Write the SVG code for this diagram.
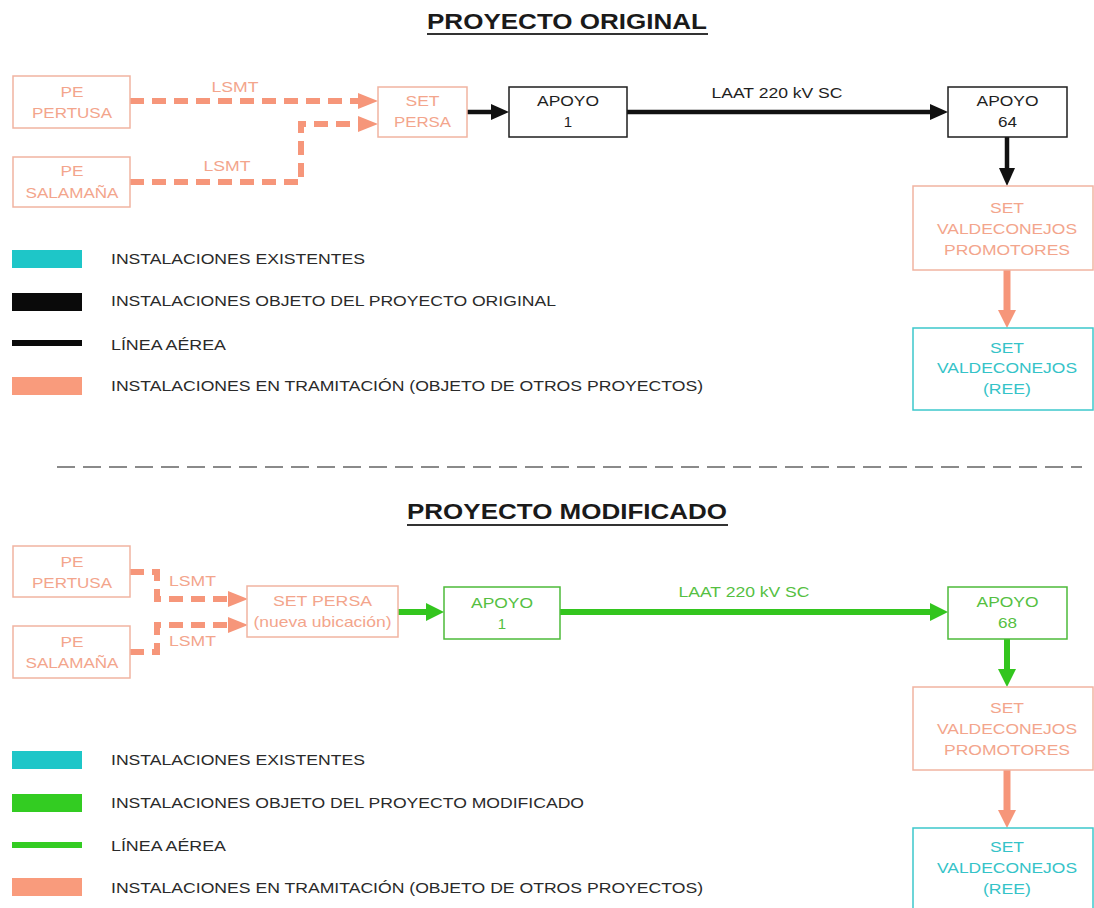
<svg xmlns="http://www.w3.org/2000/svg" width="1094" height="908" viewBox="0 0 1094 908">
<defs>
<style>
text{font-family:"Liberation Sans",Arial,sans-serif;font-size:15px;}
.c{text-anchor:middle;}
.title{font-size:22px;font-weight:bold;fill:#1a1a1a;}
.leg{fill:#2a2a2a;}
.ts{fill:#f3a58c;}
.tk{fill:#1e1e1e;}
.tc{fill:#35c3c8;}
.tg{fill:#55bf42;}
.bs{fill:#fff;stroke:#f1b4a1;stroke-width:1.5;}
.bk{fill:#fff;stroke:#1e1e1e;stroke-width:1.5;}
.bc{fill:#fff;stroke:#3cc8cc;stroke-width:1.5;}
.bg{fill:#fff;stroke:#4dbb3a;stroke-width:1.5;}
.dsh{fill:none;stroke:#f6967a;stroke-width:6;stroke-dasharray:14 8;}
.lk{fill:none;stroke:#111;stroke-width:4.5;}
.lg{fill:none;stroke:#33c51e;stroke-width:6;}
.ls{fill:none;stroke:#f6967a;stroke-width:7;}
</style>
<marker id="ahs" markerUnits="userSpaceOnUse" markerWidth="20" markerHeight="16" refX="0" refY="8" orient="auto"><path d="M0,0 L20,8 L0,16 z" fill="#f6967a"/></marker>
<marker id="ahk" markerUnits="userSpaceOnUse" markerWidth="18" markerHeight="16" refX="0" refY="8" orient="auto"><path d="M0,0 L18,8 L0,16 z" fill="#111"/></marker>
<marker id="ahg" markerUnits="userSpaceOnUse" markerWidth="18" markerHeight="18" refX="0" refY="9" orient="auto"><path d="M0,0 L18,9 L0,18 z" fill="#33c51e"/></marker>
<marker id="ahs2" markerUnits="userSpaceOnUse" markerWidth="18" markerHeight="18" refX="0" refY="9" orient="auto"><path d="M0,0 L18,9 L0,18 z" fill="#f6967a"/></marker>
</defs>
<rect width="1094" height="908" fill="#fff"/>

<!-- Titles -->
<g id="title-original">
<text class="title c" x="567" y="29" textLength="280" lengthAdjust="spacingAndGlyphs">PROYECTO ORIGINAL</text>
<line x1="427" y1="34" x2="708" y2="34" stroke="#333" stroke-width="2"/>
</g>
<g id="title-modificado">
<text class="title c" x="567" y="519" textLength="320" lengthAdjust="spacingAndGlyphs">PROYECTO MODIFICADO</text>
<line x1="407" y1="525" x2="728" y2="525" stroke="#333" stroke-width="2"/>
</g>

<g id="separator"><line x1="57" y1="467" x2="1082" y2="467" stroke="#8a8a8a" stroke-width="2" stroke-dasharray="18 8"/></g>

<!-- Connectors -->
<g id="connectors">
<path class="dsh" d="M130,101 H358" marker-end="url(#ahs)"/>
<path class="dsh" d="M130,182 H301 V124 H358" marker-end="url(#ahs)"/>
<path class="lk" d="M467,112 H491" marker-end="url(#ahk)"/>
<path class="lk" d="M627,112 H930" marker-end="url(#ahk)"/>
<path class="lk" d="M1007,137 V168" marker-end="url(#ahk)"/>
<path class="ls" d="M1007,270 V310" marker-end="url(#ahs2)"/>
<text class="ts c" x="235" y="92" textLength="47" lengthAdjust="spacingAndGlyphs">LSMT</text>
<text class="ts c" x="227" y="171" textLength="47" lengthAdjust="spacingAndGlyphs">LSMT</text>
<text class="tk c" x="777" y="98" textLength="131" lengthAdjust="spacingAndGlyphs">LAAT 220 kV SC</text>

<path class="dsh" d="M130,572 H157 V599 H228" marker-end="url(#ahs)"/>
<path class="dsh" d="M130,652 H157 V625 H228" marker-end="url(#ahs)"/>
<path class="lg" d="M398,612 H426" marker-end="url(#ahg)"/>
<path class="lg" d="M560,612 H930" marker-end="url(#ahg)"/>
<path class="lg" d="M1007,639 V669" marker-end="url(#ahg)"/>
<path class="ls" d="M1007,770 V810" marker-end="url(#ahs2)"/>
<text class="ts" x="169" y="586" textLength="47" lengthAdjust="spacingAndGlyphs">LSMT</text>
<text class="ts" x="169" y="646" textLength="47" lengthAdjust="spacingAndGlyphs">LSMT</text>
<text class="tg c" x="744" y="597" textLength="131" lengthAdjust="spacingAndGlyphs">LAAT 220 kV SC</text>
</g>

<!-- Top nodes -->
<g id="pe-pertusa-1">
<rect class="bs" x="13" y="76" width="117" height="52"/>
<text class="ts c" x="72" y="96.5" textLength="23" lengthAdjust="spacingAndGlyphs">PE</text>
<text class="ts c" x="72" y="117.5" textLength="80" lengthAdjust="spacingAndGlyphs">PERTUSA</text>
</g>
<g id="pe-salamana-1">
<rect class="bs" x="13" y="157" width="117" height="50"/>
<text class="ts c" x="72" y="176" textLength="23" lengthAdjust="spacingAndGlyphs">PE</text>
<text class="ts c" x="72" y="198" textLength="93" lengthAdjust="spacingAndGlyphs">SALAMAÑA</text>
</g>
<g id="set-persa-1">
<rect class="bs" x="378" y="87" width="89" height="50"/>
<text class="ts c" x="422.5" y="105.5" textLength="34" lengthAdjust="spacingAndGlyphs">SET</text>
<text class="ts c" x="422.5" y="126.5" textLength="57" lengthAdjust="spacingAndGlyphs">PERSA</text>
</g>
<g id="apoyo1-1">
<rect class="bk" x="509" y="87" width="118" height="50"/>
<text class="tk c" x="568" y="105.5" textLength="62" lengthAdjust="spacingAndGlyphs">APOYO</text>
<text class="tk c" x="568" y="126.5">1</text>
</g>
<g id="apoyo64">
<rect class="bk" x="948" y="87" width="119" height="50"/>
<text class="tk c" x="1007.5" y="105.5" textLength="62" lengthAdjust="spacingAndGlyphs">APOYO</text>
<text class="tk c" x="1007.5" y="126.5" textLength="19" lengthAdjust="spacingAndGlyphs">64</text>
</g>
<g id="set-valdeconejos-promotores-1">
<rect class="bs" x="913" y="186" width="180" height="84"/>
<text class="ts c" x="1007" y="212.5" textLength="34" lengthAdjust="spacingAndGlyphs">SET</text>
<text class="ts c" x="1007" y="233.5" textLength="140" lengthAdjust="spacingAndGlyphs">VALDECONEJOS</text>
<text class="ts c" x="1007" y="254.5" textLength="126" lengthAdjust="spacingAndGlyphs">PROMOTORES</text>
</g>
<g id="set-valdeconejos-ree-1">
<rect class="bc" x="913" y="328" width="180" height="82"/>
<text class="tc c" x="1007" y="352.5" textLength="34" lengthAdjust="spacingAndGlyphs">SET</text>
<text class="tc c" x="1007" y="373" textLength="140" lengthAdjust="spacingAndGlyphs">VALDECONEJOS</text>
<text class="tc c" x="1007" y="393.5" textLength="48" lengthAdjust="spacingAndGlyphs">(REE)</text>
</g>

<!-- Top legend -->
<g id="legend-original">
<rect x="12" y="250" width="70" height="18" fill="#1ec6c8"/>
<text class="leg" x="111" y="263.5" textLength="254" lengthAdjust="spacingAndGlyphs">INSTALACIONES EXISTENTES</text>
<rect x="12" y="293" width="70" height="18" fill="#0a0a0a"/>
<text class="leg" x="111" y="305.5" textLength="445" lengthAdjust="spacingAndGlyphs">INSTALACIONES OBJETO DEL PROYECTO ORIGINAL</text>
<rect x="12" y="340" width="70" height="6" fill="#0a0a0a"/>
<text class="leg" x="111" y="350" textLength="115" lengthAdjust="spacingAndGlyphs">LÍNEA AÉREA</text>
<rect x="12" y="377" width="70" height="18" fill="#f99b7c"/>
<text class="leg" x="111" y="390.5" textLength="592" lengthAdjust="spacingAndGlyphs">INSTALACIONES EN TRAMITACIÓN (OBJETO DE OTROS PROYECTOS)</text>
</g>

<!-- Bottom nodes -->
<g id="pe-pertusa-2">
<rect class="bs" x="13" y="546" width="117" height="51"/>
<text class="ts c" x="72" y="566.5" textLength="23" lengthAdjust="spacingAndGlyphs">PE</text>
<text class="ts c" x="72" y="587.5" textLength="80" lengthAdjust="spacingAndGlyphs">PERTUSA</text>
</g>
<g id="pe-salamana-2">
<rect class="bs" x="13" y="626" width="117" height="52"/>
<text class="ts c" x="72" y="646.5" textLength="23" lengthAdjust="spacingAndGlyphs">PE</text>
<text class="ts c" x="72" y="667.5" textLength="93" lengthAdjust="spacingAndGlyphs">SALAMAÑA</text>
</g>
<g id="set-persa-2">
<rect class="bs" x="247" y="586" width="151" height="51"/>
<text class="ts c" x="322.5" y="605.5" textLength="99" lengthAdjust="spacingAndGlyphs">SET PERSA</text>
<text class="ts c" x="322.5" y="626.5" textLength="138" lengthAdjust="spacingAndGlyphs">(nueva ubicación)</text>
</g>
<g id="apoyo1-2">
<rect class="bg" x="444" y="587" width="116" height="52"/>
<text class="tg c" x="502" y="607.5" textLength="62" lengthAdjust="spacingAndGlyphs">APOYO</text>
<text class="tg c" x="502" y="628.5">1</text>
</g>
<g id="apoyo68">
<rect class="bg" x="948" y="587" width="119" height="52"/>
<text class="tg c" x="1007.5" y="606.5" textLength="62" lengthAdjust="spacingAndGlyphs">APOYO</text>
<text class="tg c" x="1007.5" y="627.5" textLength="19" lengthAdjust="spacingAndGlyphs">68</text>
</g>
<g id="set-valdeconejos-promotores-2">
<rect class="bs" x="913" y="687" width="180" height="83"/>
<text class="ts c" x="1007" y="712.5" textLength="34" lengthAdjust="spacingAndGlyphs">SET</text>
<text class="ts c" x="1007" y="733.5" textLength="140" lengthAdjust="spacingAndGlyphs">VALDECONEJOS</text>
<text class="ts c" x="1007" y="754.5" textLength="126" lengthAdjust="spacingAndGlyphs">PROMOTORES</text>
</g>
<g id="set-valdeconejos-ree-2">
<rect class="bc" x="913" y="828" width="180" height="86"/>
<text class="tc c" x="1007" y="851.5" textLength="34" lengthAdjust="spacingAndGlyphs">SET</text>
<text class="tc c" x="1007" y="872.5" textLength="140" lengthAdjust="spacingAndGlyphs">VALDECONEJOS</text>
<text class="tc c" x="1007" y="893.5" textLength="48" lengthAdjust="spacingAndGlyphs">(REE)</text>
</g>

<!-- Bottom legend -->
<g id="legend-modificado">
<rect x="12" y="751" width="70" height="18" fill="#1ec6c8"/>
<text class="leg" x="111" y="764.5" textLength="254" lengthAdjust="spacingAndGlyphs">INSTALACIONES EXISTENTES</text>
<rect x="12" y="794" width="70" height="18" fill="#33cc22"/>
<text class="leg" x="111" y="807.5" textLength="473" lengthAdjust="spacingAndGlyphs">INSTALACIONES OBJETO DEL PROYECTO MODIFICADO</text>
<rect x="12" y="842" width="70" height="6" fill="#33cc22"/>
<text class="leg" x="111" y="851" textLength="115" lengthAdjust="spacingAndGlyphs">LÍNEA AÉREA</text>
<rect x="12" y="878" width="70" height="18" fill="#f99b7c"/>
<text class="leg" x="111" y="892.5" textLength="592" lengthAdjust="spacingAndGlyphs">INSTALACIONES EN TRAMITACIÓN (OBJETO DE OTROS PROYECTOS)</text>
</g>
</svg>
